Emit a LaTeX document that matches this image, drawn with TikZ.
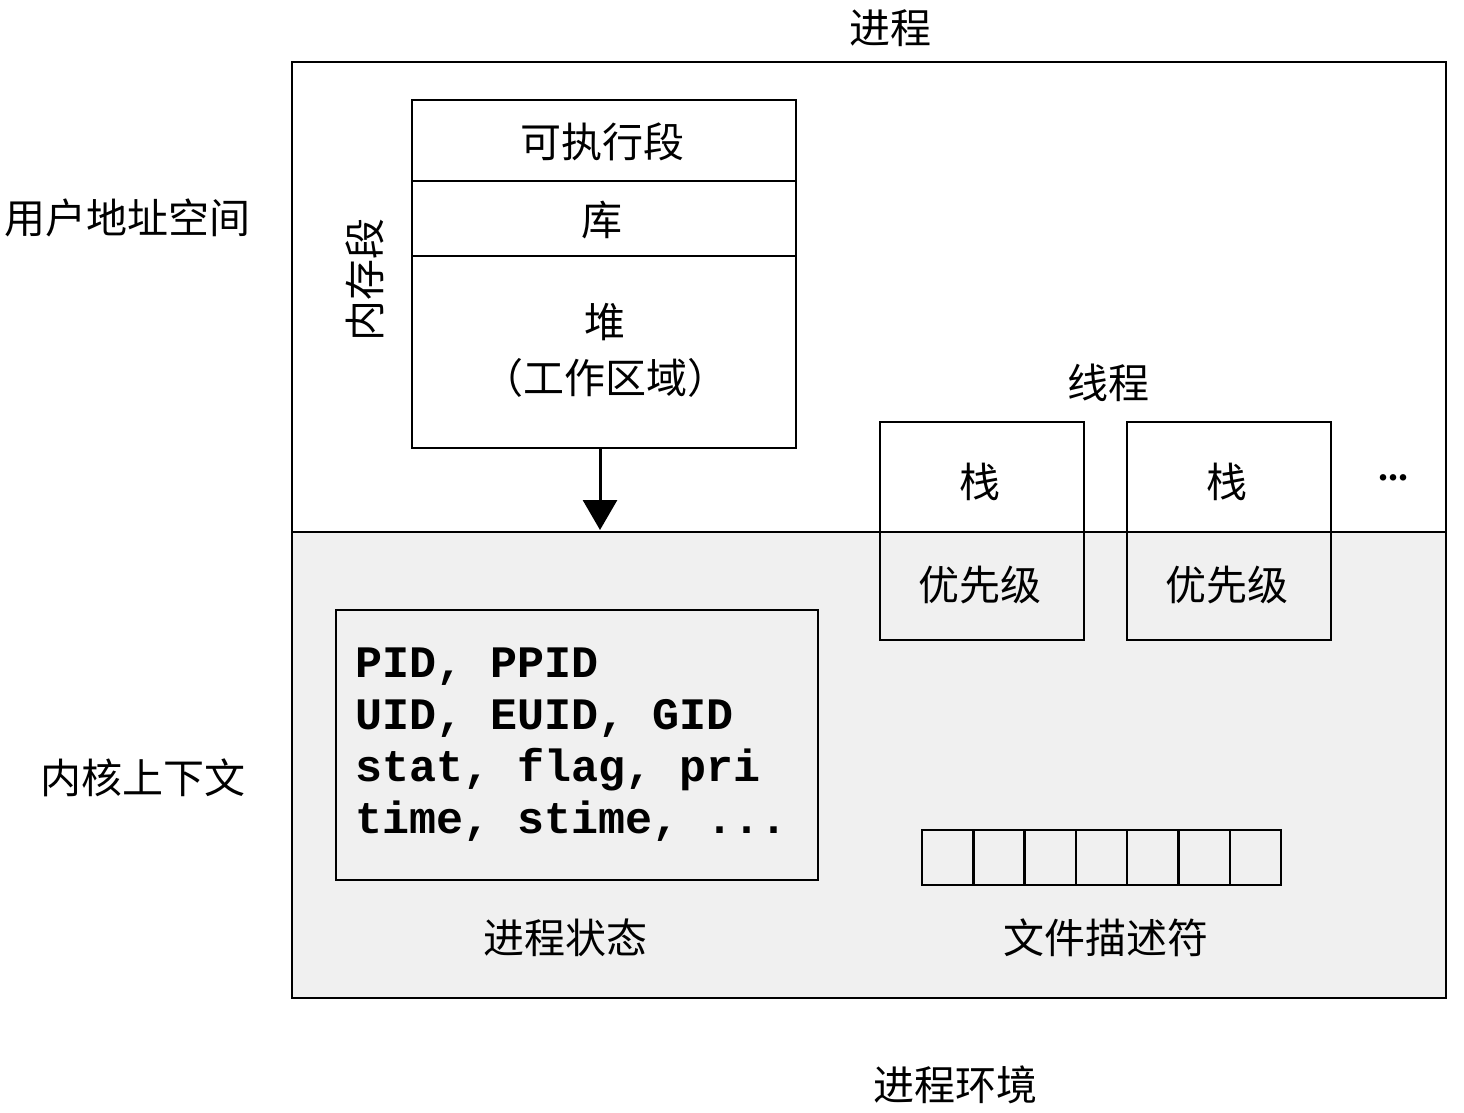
\documentclass[tikz,border=0pt]{standalone}
\usepackage{fontspec}
\setmainfont{Liberation Serif}
\newfontfamily\cjk{Noto Sans CJK SC}
\newfontfamily\monob{Liberation Mono}
\usetikzlibrary{arrows.meta}
\begin{document}
\begin{tikzpicture}[x=1pt,y=-1pt,
  lbl/.style={font=\cjk\fontsize{41}{43}\selectfont,inner sep=0pt},
  box/.style={draw=black,line width=2.5pt}]
\useasboundingbox (0,0) rectangle (1464,1112);
\fill[white] (0,0) rectangle (1464,1112);
\fill[black!6] (292,532) rectangle (1446,998);
\draw[box] (292,62) rectangle (1446,998);
\draw[box] (292,532) -- (1446,532);
\node[lbl] (title) at (890,28) {进程};
\node[lbl] (uas) at (128,218) {用户地址空间};
\node[lbl] (kc) at (143,778) {内核上下文};
\node[lbl] (env) at (955,1085) {进程环境};
% memory segment
\draw[box,fill=white] (412,100) rectangle (796,448);
\draw[box] (412,181) -- (796,181);
\draw[box] (412,256) -- (796,256);
\node[lbl] (exe) at (602,142) {可执行段};
\node[lbl] (lib) at (602,220) {库};
\node[lbl] (heap) at (605,322) {堆};
\node[lbl] (work) at (605,378) {（工作区域）};
\node[lbl,rotate=90] (mem) at (365,280) {内存段};
\coordinate (ms) at (600,448);
\coordinate (me) at (600,530);
\draw[line width=3pt,-{Triangle[length=30pt,width=34pt]}] (ms) -- (me);
% threads
\node[lbl] (thr) at (1108,383) {线程};
\foreach \x/\n in {880/a,1127/b}{
  \draw[box] (\x,422) rectangle (\x+204,640);
  \node[lbl] (stack\n) at (\x+100,482) {栈};
  \node[lbl] (prio\n) at (\x+100,585) {优先级};
}
\node[font=\bfseries\fontsize{40}{40}\selectfont] (dots) at (1393,478) {...};
% process state
\draw[box] (336,610) rectangle (818,880);
\node[anchor=north west,align=left,inner sep=0pt,font=\monob\bfseries\fontsize{45}{52}\selectfont] (st) at (355,648)
 {PID, PPID\\UID, EUID, GID\\stat, flag, pri\\time, stime, ...};
\node[lbl] (pst) at (565,938) {进程状态};
% file descriptors
\foreach \i in {0,...,6}{
  \draw[box] (922+\i*51.3,830) rectangle (922+\i*51.3+51.3,885);
}
\node[lbl] (fd) at (1106,938) {文件描述符};
\end{tikzpicture}
\end{document}
